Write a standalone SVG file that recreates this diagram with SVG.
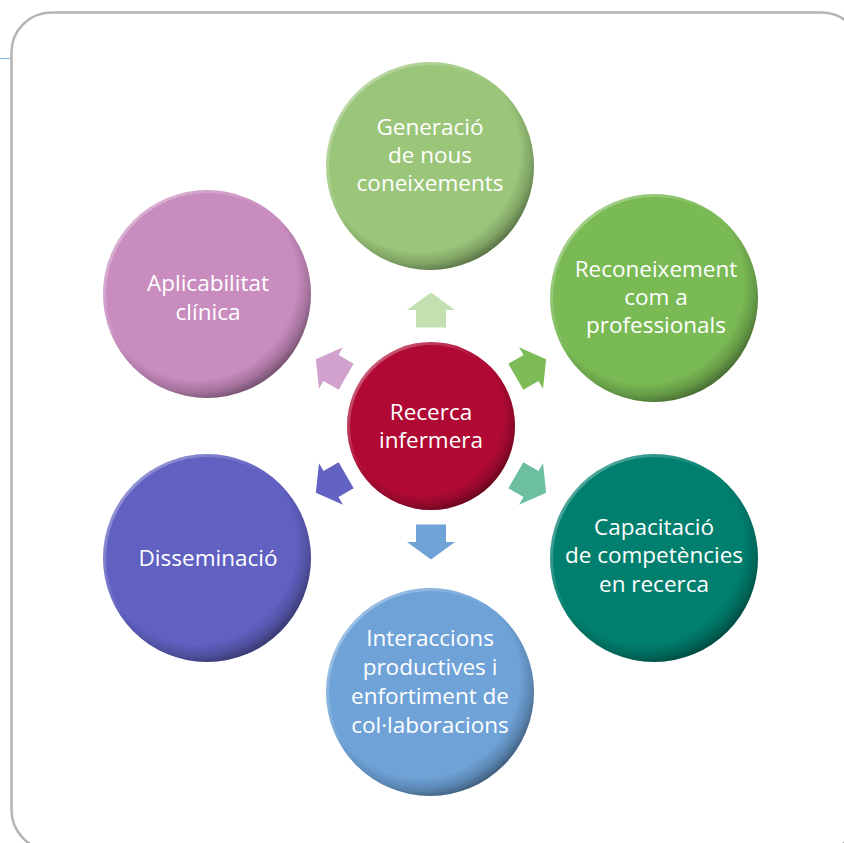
<svg xmlns="http://www.w3.org/2000/svg" width="844" height="843" viewBox="0 0 844 843">
<defs>
<style>
.lbl{font-family:"Open Sans","Noto Sans","DejaVu Sans",sans-serif;font-size:22.5px;fill:#ffffff;text-anchor:middle}
.shade{fill:url(#rim)}
.hl{fill:none;stroke:url(#hlg);stroke-width:3}
</style>
<radialGradient id="rim" cx="0.45" cy="0.43" r="0.6">
<stop offset="0" stop-color="#000" stop-opacity="0"/>
<stop offset="0.8" stop-color="#000" stop-opacity="0"/>
<stop offset="0.9" stop-color="#000" stop-opacity="0.18"/>
<stop offset="1" stop-color="#000" stop-opacity="0.5"/>
</radialGradient>
<linearGradient id="hlg" x1="0" y1="0" x2="1" y2="1">
<stop offset="0" stop-color="#fff" stop-opacity="0.45"/>
<stop offset="0.45" stop-color="#fff" stop-opacity="0"/>
</linearGradient>
<path id="arr" d="M0,-17.5 L24,0 L15,0 L15,17.5 L-15,17.5 L-15,0 L-24,0 Z"/>
</defs>
<rect x="0" y="0" width="844" height="843" fill="#ffffff"/>
<line x1="0" y1="58.5" x2="11" y2="58.5" stroke="#8bbde0" stroke-width="1.2"/>
<rect x="11.5" y="12.5" width="850" height="837.5" rx="40" ry="40" fill="#ffffff" stroke="#b4b4b4" stroke-width="2.5"/>

<g id="connectors">
<use href="#arr" transform="translate(431,310)" fill="#c4dfb0"/>
<use href="#arr" transform="translate(531,368) rotate(60)" fill="#7dbb57"/>
<use href="#arr" transform="translate(531,484) rotate(120)" fill="#6cbf9f"/>
<use href="#arr" transform="translate(431,542) rotate(180)" fill="#6fa3d8"/>
<use href="#arr" transform="translate(331,484) rotate(240)" fill="#6262c2"/>
<use href="#arr" transform="translate(331,368) rotate(300)" fill="#d1a2cd"/>
</g>

<g id="n-generacio">
<circle cx="430" cy="166" r="104" fill="#9bc67a"/>
<circle cx="430" cy="166" r="104" class="shade"/>
<circle cx="430" cy="166" r="102.5" class="hl"/>
<text class="lbl" x="430" y="135">Generació</text>
<text class="lbl" x="430" y="163">de nous</text>
<text class="lbl" x="430" y="191">coneixements</text>
</g>

<g id="n-reconeixement">
<circle cx="654" cy="298" r="104" fill="#7aba55"/>
<circle cx="654" cy="298" r="104" class="shade"/>
<circle cx="654" cy="298" r="102.5" class="hl"/>
<text class="lbl" x="656" y="277">Reconeixement</text>
<text class="lbl" x="656" y="305">com a</text>
<text class="lbl" x="656" y="333">professionals</text>
</g>

<g id="n-capacitacio">
<circle cx="654" cy="558" r="104" fill="#007f6e"/>
<circle cx="654" cy="558" r="104" class="shade"/>
<circle cx="654" cy="558" r="102.5" class="hl"/>
<text class="lbl" x="654" y="535">Capacitació</text>
<text class="lbl" x="654" y="563">de competències</text>
<text class="lbl" x="654" y="592">en recerca</text>
</g>

<g id="n-interaccions">
<circle cx="430" cy="692" r="104" fill="#6fa3d8"/>
<circle cx="430" cy="692" r="104" class="shade"/>
<circle cx="430" cy="692" r="102.5" class="hl"/>
<text class="lbl" x="430" y="646">Interaccions</text>
<text class="lbl" x="430" y="675">productives i</text>
<text class="lbl" x="430" y="704">enfortiment de</text>
<text class="lbl" x="430" y="733">col·laboracions</text>
</g>

<g id="n-disseminacio">
<circle cx="207" cy="558" r="104" fill="#6161c2"/>
<circle cx="207" cy="558" r="104" class="shade"/>
<circle cx="207" cy="558" r="102.5" class="hl"/>
<text class="lbl" x="208" y="566">Disseminació</text>
</g>

<g id="n-aplicabilitat">
<circle cx="207" cy="294" r="104" fill="#c98cbf"/>
<circle cx="207" cy="294" r="104" class="shade"/>
<circle cx="207" cy="294" r="102.5" class="hl"/>
<text class="lbl" x="208" y="291">Aplicabilitat</text>
<text class="lbl" x="208" y="320">clínica</text>
</g>

<g id="n-recerca">
<circle cx="431" cy="426" r="84" fill="#b00a34"/>
<circle cx="431" cy="426" r="84" class="shade"/>
<circle cx="431" cy="426" r="82.5" class="hl"/>
<text class="lbl" x="431" y="420">Recerca</text>
<text class="lbl" x="431" y="448">infermera</text>
</g>
</svg>
